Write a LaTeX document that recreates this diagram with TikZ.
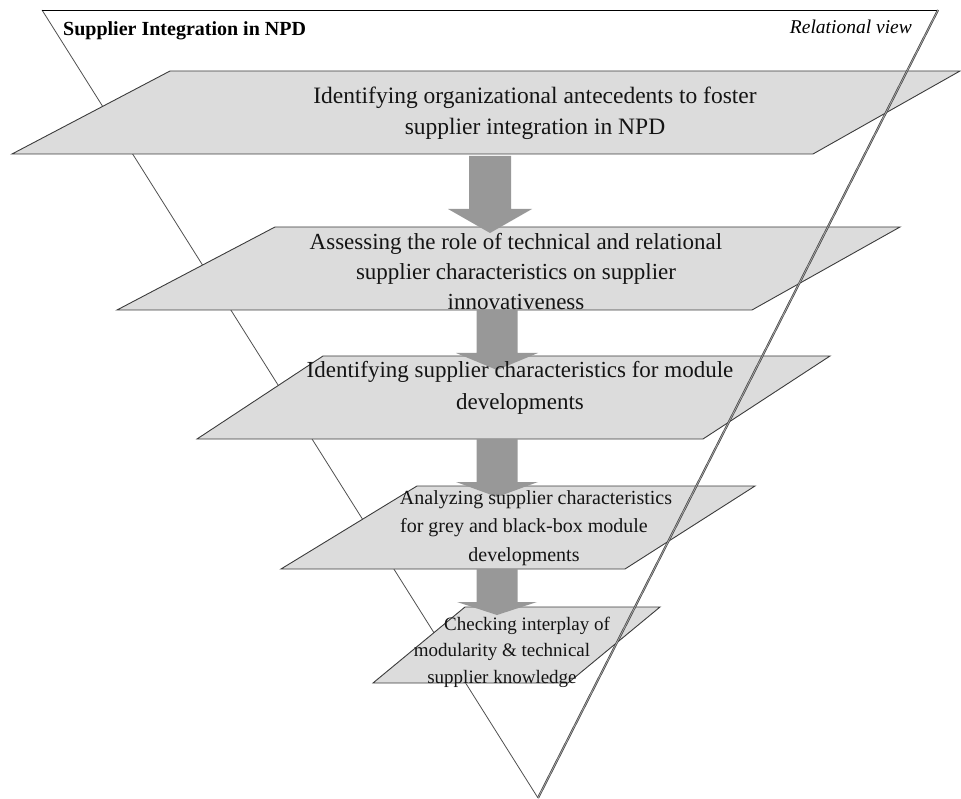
\documentclass[tikz,border=0pt]{standalone}
\usepackage{fontspec}
\setmainfont{Liberation Serif}
\usetikzlibrary{calc}

\definecolor{slab}{HTML}{DCDCDC}
\definecolor{slabedge}{HTML}{3C3C3C}
\definecolor{flow}{HTML}{989898}
\definecolor{frame}{HTML}{505050}

\tikzset{
  slabshape/.style={fill=slab, draw=slabedge, line width=0.9pt, line join=miter},
  frameline/.style={draw=frame, line width=0.8pt},
  topline/.style={draw=black, line width=0.9pt},
  viewline/.style={draw=black!75, double=black!35, double distance=0.8pt, line width=0.65pt},
  blockarrow/.style n args={3}{fill=flow, draw=none, to path={
      let \p1=(\tikztostart), \p2=(\tikztotarget) in
      (\x1-#1,\y1) -- (\x1+#1,\y1) -- (\x1+#1,\y2+#3) -- (\x1+#2,\y2+#3)
      -- (\x2,\y2) -- (\x1-#2,\y2+#3) -- (\x1-#1,\y2+#3) -- cycle}},
  bigtxt/.style={align=center, inner sep=0pt, text=black!92,
      font=\fontsize{23.5}{31}\selectfont},
  midtxt/.style={align=center, inner sep=0pt, text=black!92,
      font=\fontsize{20}{28.5}\selectfont},
  smalltxt/.style={align=center, inner sep=0pt, text=black!92,
      font=\fontsize{19}{26.5}\selectfont},
}

\begin{document}
\begin{tikzpicture}[x=1pt,y=-1pt]
\useasboundingbox (0,0) rectangle (961,799);

% funnel outline: left side and top edge lie behind the stages
\coordinate (tl) at (42,10);
\coordinate (tr) at (938,10);
\coordinate (apex) at (538,798);
\draw[frameline] (apex) -- (tl);
\draw[topline] (tl) -- (tr);

% stage slabs
\draw[slabshape] (12,154) -- (170,71) -- (960,71) -- (813,154) -- cycle;
\draw[slabshape] (117,310) -- (275,227) -- (900,227) -- (752,310) -- cycle;
\draw[slabshape] (197,439) -- (323,356) -- (830,356) -- (703,439) -- cycle;
\draw[slabshape] (281,569) -- (417,486) -- (755,486) -- (625,569) -- cycle;
\draw[slabshape] (373,683) -- (465,607) -- (660,607) -- (568,683) -- cycle;

% arrow end points between the stages
\coordinate (a1s) at (490,156); \coordinate (a1t) at (490,233);
\coordinate (a2s) at (497,310); \coordinate (a2t) at (497,370);
\coordinate (a3s) at (497,439); \coordinate (a3t) at (497,497);
\coordinate (a4s) at (497,569); \coordinate (a4t) at (497,615);

\path[blockarrow={21pt}{42pt}{24pt}] (a1s) to (a1t);
\path[blockarrow={20.5pt}{41pt}{17pt}] (a2s) to (a2t);
\path[blockarrow={20.5pt}{41pt}{15pt}] (a3s) to (a3t);
\path[blockarrow={20.5pt}{40pt}{13pt}] (a4s) to (a4t);

% stage texts
\node[bigtxt] (s1) at (535,113)
  {Identifying organizational antecedents to foster\\supplier integration in NPD};
\node[bigtxt, font=\fontsize{23}{30}\selectfont] (s2) at (516,272)
  {Assessing the role of technical and relational\\supplier characteristics on supplier\\innovativeness};
\node[bigtxt, font=\fontsize{23}{32}\selectfont] (s3) at (520,388)
  {Identifying supplier characteristics for module\\developments};
\node[midtxt] (s4) at (524,528)
  {\hspace*{24pt}Analyzing supplier characteristics\\for grey and black-box module\\developments};
\node[smalltxt] (s5) at (502,652)
  {\hspace*{50pt}Checking interplay of\\modularity \& technical\\supplier knowledge};

% headings
\node[anchor=base west, inner sep=0pt, font=\bfseries\fontsize{20}{24}\selectfont]
  (title) at (63,36) {Supplier Integration in NPD};
\node[anchor=base east, inner sep=0pt, font=\itshape\fontsize{19.5}{24}\selectfont]
  (view) at (912,34) {Relational view};

% right side of the funnel runs over the stages
\draw[viewline] (tr) -- (apex);
\end{tikzpicture}
\end{document}
